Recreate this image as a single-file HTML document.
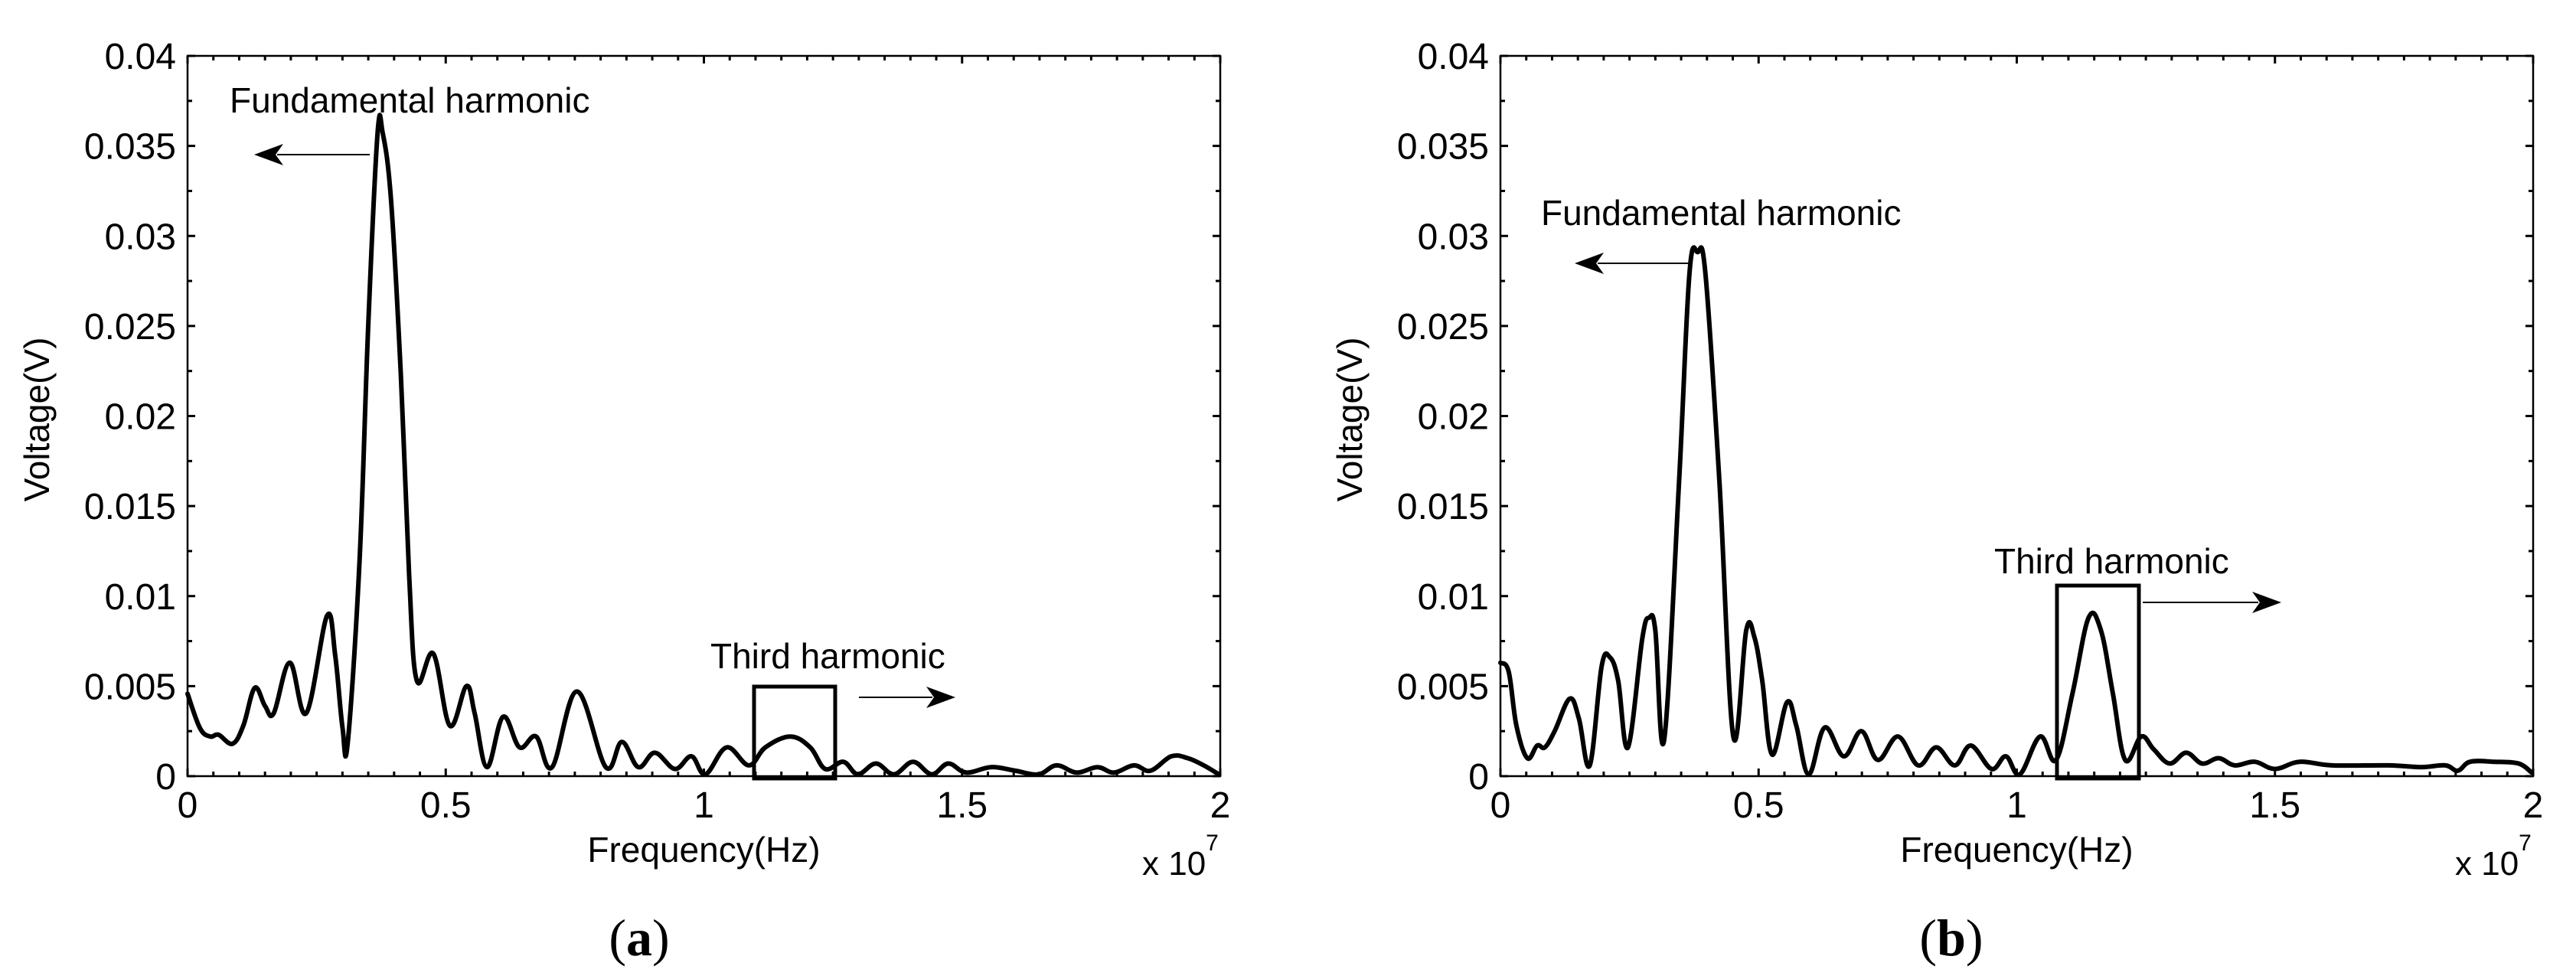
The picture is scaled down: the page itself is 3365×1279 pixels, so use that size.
<!DOCTYPE html>
<html><head><meta charset="utf-8"><style>
html,body{margin:0;padding:0;background:#fff;}
svg{display:block;font-family:"Liberation Sans",Arial,sans-serif;}
</style></head><body>
<svg id="fig" width="3365" height="1279" viewBox="0 0 3365 1279" xmlns="http://www.w3.org/2000/svg"></svg>
<script>
// Panel (a) data: frequency (x 1e7 Hz) and voltage (V)
const freqA = [0,0.024,0.044,0.06,0.087,0.108,0.13,0.15,0.167,0.198,0.23,0.27,0.286,0.30,0.31,0.333,0.35,0.368,0.378,0.394,0.413,0.429,0.444,0.476,0.508,0.54,0.556,0.58,0.611,0.643,0.675,0.706,0.754,0.81,0.841,0.873,0.905,0.944,0.976,1.003,1.044,1.087,1.119,1.167,1.206,1.235,1.27,1.298,1.333,1.368,1.405,1.441,1.473,1.508,1.556,1.603,1.648,1.683,1.722,1.762,1.794,1.833,1.865,1.905,1.937,1.968,1.997];
const voltA = [0.00458,0.00267,0.0022,0.0023,0.0018,0.0028,0.0049,0.0039,0.0035,0.0063,0.0035,0.0089,0.0067,0.0027,0.0018,0.0119,0.0251,0.0357,0.0357,0.032,0.0223,0.0112,0.0053,0.0068,0.0028,0.005,0.0035,0.0005,0.0033,0.0016,0.0022,0.0005,0.0047,0.0005,0.0019,0.0005,0.0013,0.0004,0.0011,0.0001,0.0016,0.0006,0.0016,0.0022,0.0016,0.0004,0.0008,0.0001,0.0007,0.0001,0.0008,0.0001,0.0007,0.0002,0.0005,0.0003,0.0001,0.0006,0.0002,0.0005,0.0002,0.0006,0.0003,0.0011,0.001,0.0006,0.0001];
// Panel (b) data
const freqB = [0,0.016,0.031,0.052,0.071,0.086,0.105,0.134,0.152,0.173,0.196,0.212,0.228,0.247,0.275,0.288,0.30,0.317,0.346,0.366,0.382,0.397,0.424,0.451,0.476,0.492,0.507,0.526,0.555,0.573,0.597,0.628,0.665,0.699,0.731,0.77,0.809,0.844,0.88,0.911,0.951,0.979,1.006,1.045,1.076,1.108,1.139,1.163,1.186,1.21,1.241,1.265,1.296,1.328,1.359,1.391,1.422,1.461,1.5,1.548,1.61,1.72,1.783,1.83,1.854,1.878,1.925,1.972,1.997];
const voltB = [0.0063,0.0058,0.0028,0.001,0.0017,0.0016,0.0025,0.0043,0.0032,0.0006,0.0061,0.0066,0.0053,0.0016,0.0077,0.0088,0.0081,0.002,0.0164,0.0279,0.0291,0.0279,0.0164,0.0022,0.0081,0.0077,0.0053,0.0012,0.0041,0.0028,0.0001,0.0027,0.0011,0.0025,0.0009,0.0022,0.0006,0.0016,0.0006,0.0017,0.0004,0.0011,0.0001,0.0022,0.0009,0.0046,0.0088,0.0081,0.0046,0.0009,0.0022,0.0015,0.0007,0.0013,0.0007,0.001,0.0006,0.0008,0.0004,0.0008,0.0006,0.0006,0.0005,0.0006,0.0003,0.0008,0.0008,0.0007,0.0002];
const xTicks = [0,0.5,1,1.5,2];
const xTickLabels = ["0","0.5","1","1.5","2"];
const yTicks = [0,0.005,0.01,0.015,0.02,0.025,0.03,0.035,0.04];
const yTickLabels = ["0","0.005","0.01","0.015","0.02","0.025","0.03","0.035","0.04"];

const NS="http://www.w3.org/2000/svg";
const svg=document.getElementById('fig');
function mk(tag,attrs,parent,text){const e=document.createElementNS(NS,tag);for(const k in attrs)e.setAttribute(k,attrs[k]);if(text!==undefined)e.textContent=text;(parent||svg).appendChild(e);return e;}

function smoothPath(pts){
  let d='M'+pts[0][0].toFixed(1)+','+pts[0][1].toFixed(1);
  for(let i=0;i<pts.length-1;i++){
    const p0=pts[Math.max(0,i-1)],p1=pts[i],p2=pts[i+1],p3=pts[Math.min(pts.length-1,i+2)];
    const t=0.18;
    let c1y=p1[1]+(p2[1]-p0[1])*t, c2y=p2[1]-(p3[1]-p1[1])*t;
    const lo=Math.max(p1[1],p2[1])+2, hi=Math.min(p1[1],p2[1])-2;
    const c1x=p1[0]+(p2[0]-p0[0])*t, c2x=p2[0]-(p3[0]-p1[0])*t;
    d+=` C${c1x.toFixed(1)},${c1y.toFixed(1)} ${c2x.toFixed(1)},${c2y.toFixed(1)} ${p2[0].toFixed(1)},${p2[1].toFixed(1)}`;
  }
  return d;
}

function panel(cfg){
  const g=mk('g',{});
  
  
  const L=cfg.left,R=cfg.left+1349,T=73,B=1014;
  const sx=f=>L+(f-0)/2*(R-L);
  const sy=v=>B-(v/0.04)*(B-T);
  const tk=mk('g',{stroke:'#000','stroke-width':3},g);
  
  
  for(let i=0;i<=40;i++){const f=i*0.05;const x=sx(f);const major=(i%10===0);const len=major?10:6;
    mk('line',{x1:x,y1:B,x2:x,y2:B-len},tk);mk('line',{x1:x,y1:T,x2:x,y2:T+len},tk);}
  for(let i=0;i<=16;i++){const v=i*0.0025;const y=sy(v);const major=(i%2===0);const len=major?10:6;
    mk('line',{x1:L,y1:y,x2:L+len,y2:y},tk);mk('line',{x1:R,y1:y,x2:R-len,y2:y},tk);}
  const fr=mk('rect',{x:L,y:T,width:R-L,height:B-T,fill:'none',stroke:'#000','stroke-width':2.5},g);
  
  
  xTicks.forEach((t,i)=>{const e=mk('text',{x:sx(t),y:1068,'font-size':48,'text-anchor':'middle'},g,xTickLabels[i]);
    
    });
  yTicks.forEach((t,i)=>{const e=mk('text',{x:L-15,y:sy(t)+17,'font-size':48,'text-anchor':'end'},g,yTickLabels[i]);
    
    });
  const pts=cfg.f.map((f,i)=>[sx(f),sy(cfg.v[i])]);
  const p=mk('path',{d:smoothPath(pts),fill:'none',stroke:'#000','stroke-width':6,'stroke-linejoin':'round','stroke-linecap':'round'},g);
  
  
  const xt=mk('text',{x:(L+R)/2,y:1126,'font-size':46,'text-anchor':'middle'},g,'Frequency(Hz)');
  
  
  const yt=mk('text',{x:0,y:0,'font-size':46,'text-anchor':'middle',transform:`translate(${L-181},548) rotate(-90)`},g,'Voltage(V)');
  
  
  const ex=mk('text',{x:R-102,y:1143,'font-size':44},g,'x 10');
  
  
  mk('tspan',{dy:-32,'font-size':30},ex,'7');
  const a=cfg.ann;
  const ft=mk('text',{x:a.fx,y:a.fy,'font-size':46},g,'Fundamental harmonic');
  
  
  const fa=mk('g',{},g);
  
  
  mk('line',{x1:a.fa1+30,y1:a.fay,x2:a.fa2,y2:a.fay,stroke:'#000','stroke-width':2},fa);
  mk('path',{d:`M${a.fa1},${a.fay} L${a.fa1+38},${a.fay-14} L${a.fa1+28},${a.fay} L${a.fa1+38},${a.fay+14} Z`,fill:'#000'},fa);
  const tt=mk('text',{x:a.tx,y:a.ty,'font-size':46},g,'Third harmonic');
  
  
  const bx=mk('rect',{x:a.bx1,y:a.by1,width:a.bx2-a.bx1,height:B+3-a.by1,fill:'none',stroke:'#000','stroke-width':5},g);
  
  
  const ta=mk('g',{},g);
  
  
  mk('line',{x1:a.ta1,y1:a.tay,x2:a.ta2-30,y2:a.tay,stroke:'#000','stroke-width':2},ta);
  mk('path',{d:`M${a.ta2},${a.tay} L${a.ta2-38},${a.tay-14} L${a.ta2-28},${a.tay} L${a.ta2-38},${a.tay+14} Z`,fill:'#000'},ta);
  const cap=mk('text',{x:cfg.capx,y:1248,'font-size':68,'text-anchor':'middle','font-family':'"Liberation Serif",serif'},g);
  
  
  mk('tspan',{},cap,'(');mk('tspan',{'font-weight':'bold'},cap,cfg.letter);mk('tspan',{},cap,')');
}
panel({name:'panel-a',left:245,f:freqA,v:voltA,letter:'a',capx:835,
  ann:{fx:300,fy:147,fa1:332,fa2:483,fay:202,tx:928,ty:873,bx1:985,bx2:1091,by1:897,ta1:1122,ta2:1248,tay:911}});
panel({name:'panel-b',left:1960,f:freqB,v:voltB,letter:'b',capx:2549,
  ann:{fx:2013,fy:294,fa1:2057,fa2:2207,fay:344,tx:2605,ty:749,bx1:2687,bx2:2794,by1:765,ta1:2799,ta2:2980,tay:787}});
</script>
</body></html>
